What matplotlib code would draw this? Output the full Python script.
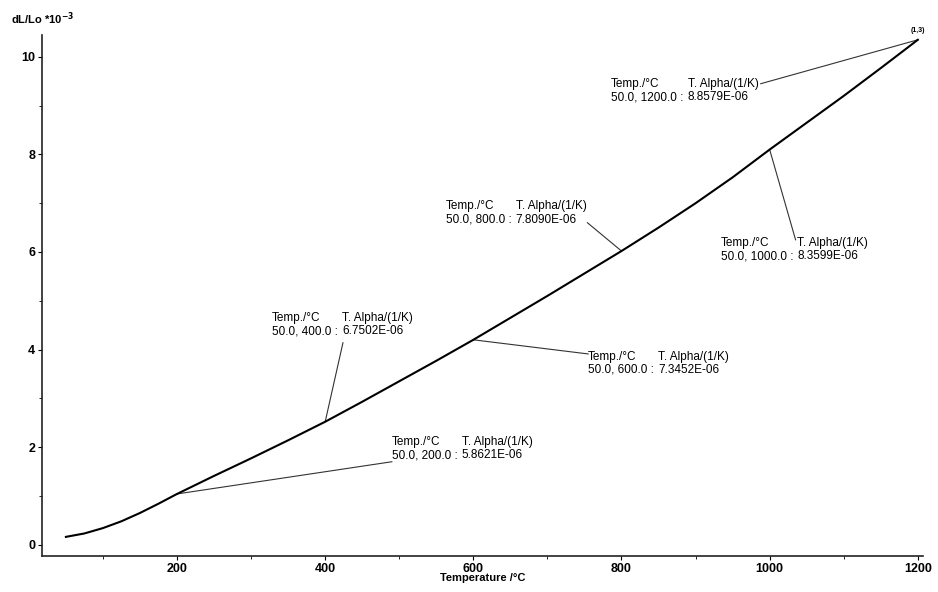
import matplotlib
matplotlib.use("Agg")
import matplotlib.pyplot as plt
import numpy as np
from matplotlib.ticker import MultipleLocator

# curve: temperature (°C) and dL/Lo (*10^-3)
temp = [50, 75, 100, 125, 150, 175, 200, 250, 300, 350, 400, 450, 500, 550,
        600, 650, 700, 750, 800, 850, 900, 950, 1000, 1050, 1100, 1150, 1200]
dl = [0.16, 0.23, 0.34, 0.48, 0.65, 0.84, 1.04, 1.41, 1.77, 2.14, 2.52, 2.93,
      3.35, 3.77, 4.20, 4.65, 5.10, 5.56, 6.02, 6.50, 7.00, 7.53, 8.10, 8.65,
      9.20, 9.77, 10.35]

# mean expansion coefficients shown in the labels
lab_temp = [200, 400, 600, 800, 1000, 1200]
lab_alpha = ["5.8621E-06", "6.7502E-06", "7.3452E-06", "7.8090E-06",
             "8.3599E-06", "8.8579E-06"]

# label placement (text top-left, leader end), in data units
lab_text_xy = [(490, 2.23), (328, 4.77), (755, 3.98), (563, 7.06),
               (934, 6.31), (786, 9.57)]
lab_line_end = [(490, 1.70), (424, 4.14), (755, 3.91), (754, 6.60),
                (1035, 6.25), (988, 9.45)]

FONT = ["Liberation Sans", "DejaVu Sans"]
plt.rcParams["font.family"] = FONT

fig = plt.figure(figsize=(9.38, 5.92), dpi=100)
ax = fig.add_axes([0.045, 0.061, 0.939, 0.880])

ax.plot(temp, dl, color="black", lw=1.5, zorder=3)

for t, a, (tx, ty), (ex, ey) in zip(lab_temp, lab_alpha, lab_text_xy, lab_line_end):
    y0 = dl[temp.index(t)]
    ax.plot([t, ex], [y0, ey], color="#333333", lw=0.8, zorder=2)
    t1 = ax.text(tx, ty, "Temp./°C\n50.0, %.1f :" % t, fontsize=8.5,
                 va="top", ha="left", linespacing=1.15, color="black")
    ax.annotate("T. Alpha/(1/K)\n" + a, xy=(1, 1), xycoords=t1,
                xytext=(3, 0), textcoords="offset points", fontsize=8.5,
                va="top", ha="left", linespacing=1.15, color="black")

ax.text(temp[-1], dl[-1] + 0.12, "(1,3)", fontsize=5, fontweight="bold",
        ha="center", va="bottom")

ax.set_xlim(18, 1207)
ax.set_ylim(-0.23, 10.45)
ax.xaxis.set_major_locator(MultipleLocator(200))
ax.xaxis.set_minor_locator(MultipleLocator(100))
ax.yaxis.set_major_locator(MultipleLocator(2))
ax.yaxis.set_minor_locator(MultipleLocator(1))

for s in ["top", "right"]:
    ax.spines[s].set_visible(False)
for s in ["left", "bottom"]:
    ax.spines[s].set_linewidth(1.2)
    ax.spines[s].set_color("#222222")

ax.tick_params(which="major", length=3, width=0.8, labelsize=9, pad=2)
ax.tick_params(which="minor", length=2, width=0.6)
for lbl in ax.get_xticklabels() + ax.get_yticklabels():
    lbl.set_fontweight("bold")

ax.set_xlabel("Temperature /°C", fontsize=8, fontweight="bold", labelpad=-1)
fig.text(0.012, 0.968, r"dL/Lo *10$^{\mathbf{-3}}$", fontsize=8,
         fontweight="bold", ha="left", va="center")

fig.savefig("out.png", dpi=100)
